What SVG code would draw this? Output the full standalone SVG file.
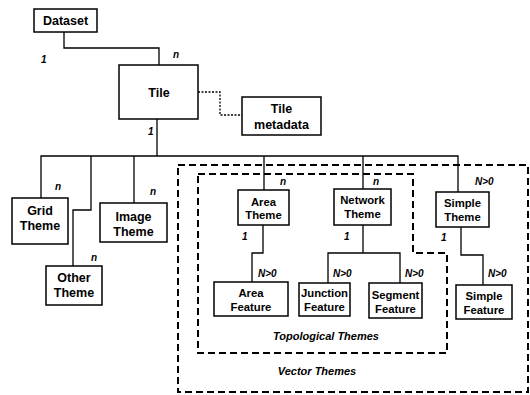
<svg xmlns="http://www.w3.org/2000/svg" width="530" height="395" viewBox="0 0 530 395">
<style>
.box{fill:#fff;stroke:#000;stroke-width:1.5}
.t{font-family:"Liberation Sans",Arial,sans-serif;font-weight:bold;font-size:12.5px;text-anchor:middle;fill:#000}
.s{font-size:11.3px}
.lbl{font-family:"Liberation Sans",Arial,sans-serif;font-weight:bold;font-style:italic;font-size:10px;fill:#000}
.cap{font-family:"Liberation Sans",Arial,sans-serif;font-weight:bold;font-style:italic;font-size:11px;text-anchor:middle;fill:#000}
.c{fill:none;stroke:#000;stroke-width:1.3}
.dot{fill:none;stroke:#000;stroke-width:1.3;stroke-dasharray:2 1.5}
.dash{fill:none;stroke:#000;stroke-width:2;stroke-dasharray:7 4}
</style>
<rect width="530" height="395" fill="#fff"/>
<g id="groups">
<path class="dash" d="M178,165 H528 V392 H178 Z"/>
<path class="dash" d="M198,174 H413 V253 H447 V353 H198 Z"/>
<text class="cap" x="326" y="340">Topological Themes</text>
<text class="cap" x="317" y="375">Vector Themes</text>
</g>
<g id="connectors">
<path class="c" d="M64,32 V48 H159 V65"/>
<path class="dot" d="M198,92 H220 V115 H242"/>
<path class="c" d="M157,119 V156"/>
<path class="c" d="M41,198 V156 H458 V192"/>
<path class="c" d="M91,156 V210 H73 V266"/>
<path class="c" d="M134,156 V203"/>
<path class="c" d="M264,156 V190"/>
<path class="c" d="M363,156 V189"/>
<path class="c" d="M263,225 V253 H252 V282"/>
<path class="c" d="M363,225 V253"/>
<path class="c" d="M328,283 V253 H400 V283"/>
<path class="c" d="M461,227 V255 H483 V285"/>
</g>
<g id="mult">
<text class="lbl" x="41" y="63">1</text>
<text class="lbl" x="173" y="58">n</text>
<text class="lbl" x="148" y="135">1</text>
<text class="lbl" x="55" y="190">n</text>
<text class="lbl" x="91" y="261">n</text>
<text class="lbl" x="150" y="195">n</text>
<text class="lbl" x="280" y="185">n</text>
<text class="lbl" x="373" y="185">n</text>
<text class="lbl" x="475" y="185">N&gt;0</text>
<text class="lbl" x="242" y="240">1</text>
<text class="lbl" x="344" y="240">1</text>
<text class="lbl" x="441" y="241">1</text>
<text class="lbl" x="258" y="277">N&gt;0</text>
<text class="lbl" x="333" y="277">N&gt;0</text>
<text class="lbl" x="405" y="277">N&gt;0</text>
<text class="lbl" x="488" y="277">N&gt;0</text>
</g>
<g id="dataset"><rect class="box" x="34" y="9" width="63" height="23"/><text class="t" x="65.5" y="25">Dataset</text></g>
<g id="tile"><rect class="box" x="119" y="65" width="79" height="54"/><text class="t" x="159" y="97">Tile</text></g>
<g id="tile-metadata"><rect class="box" x="242" y="97" width="79" height="38"/><text class="t" x="281.5" y="113">Tile</text><text class="t" x="281.5" y="129">metadata</text></g>
<g id="grid-theme"><rect class="box" x="12" y="198" width="56" height="46"/><text class="t" x="40" y="215">Grid</text><text class="t" x="40" y="230">Theme</text></g>
<g id="other-theme"><rect class="box" x="46" y="266" width="56" height="39"/><text class="t" x="74" y="282">Other</text><text class="t" x="74" y="297">Theme</text></g>
<g id="image-theme"><rect class="box" x="100" y="203" width="67" height="39"/><text class="t" x="133.5" y="221">Image</text><text class="t" x="133.5" y="236">Theme</text></g>
<g id="area-theme"><rect class="box" x="238" y="190" width="51" height="35"/><text class="t s" x="263.5" y="206">Area</text><text class="t s" x="263.5" y="219">Theme</text></g>
<g id="network-theme"><rect class="box" x="334" y="189" width="57" height="36"/><text class="t s" x="362.5" y="204">Network</text><text class="t s" x="362.5" y="218">Theme</text></g>
<g id="simple-theme"><rect class="box" x="436" y="192" width="53" height="35"/><text class="t s" x="462.5" y="207">Simple</text><text class="t s" x="462.5" y="221">Theme</text></g>
<g id="area-feature"><rect class="box" x="214" y="282" width="74" height="34"/><text class="t s" x="251" y="297">Area</text><text class="t s" x="251" y="311">Feature</text></g>
<g id="junction-feature"><rect class="box" x="299" y="283" width="51" height="33"/><text class="t s" x="324.5" y="297">Junction</text><text class="t s" x="324.5" y="311">Feature</text></g>
<g id="segment-feature"><rect class="box" x="369" y="283" width="53" height="35"/><text class="t s" x="395.5" y="299">Segment</text><text class="t s" x="395.5" y="313">Feature</text></g>
<g id="simple-feature"><rect class="box" x="456" y="285" width="56" height="34"/><text class="t s" x="484" y="300">Simple</text><text class="t s" x="484" y="314">Feature</text></g>
</svg>
